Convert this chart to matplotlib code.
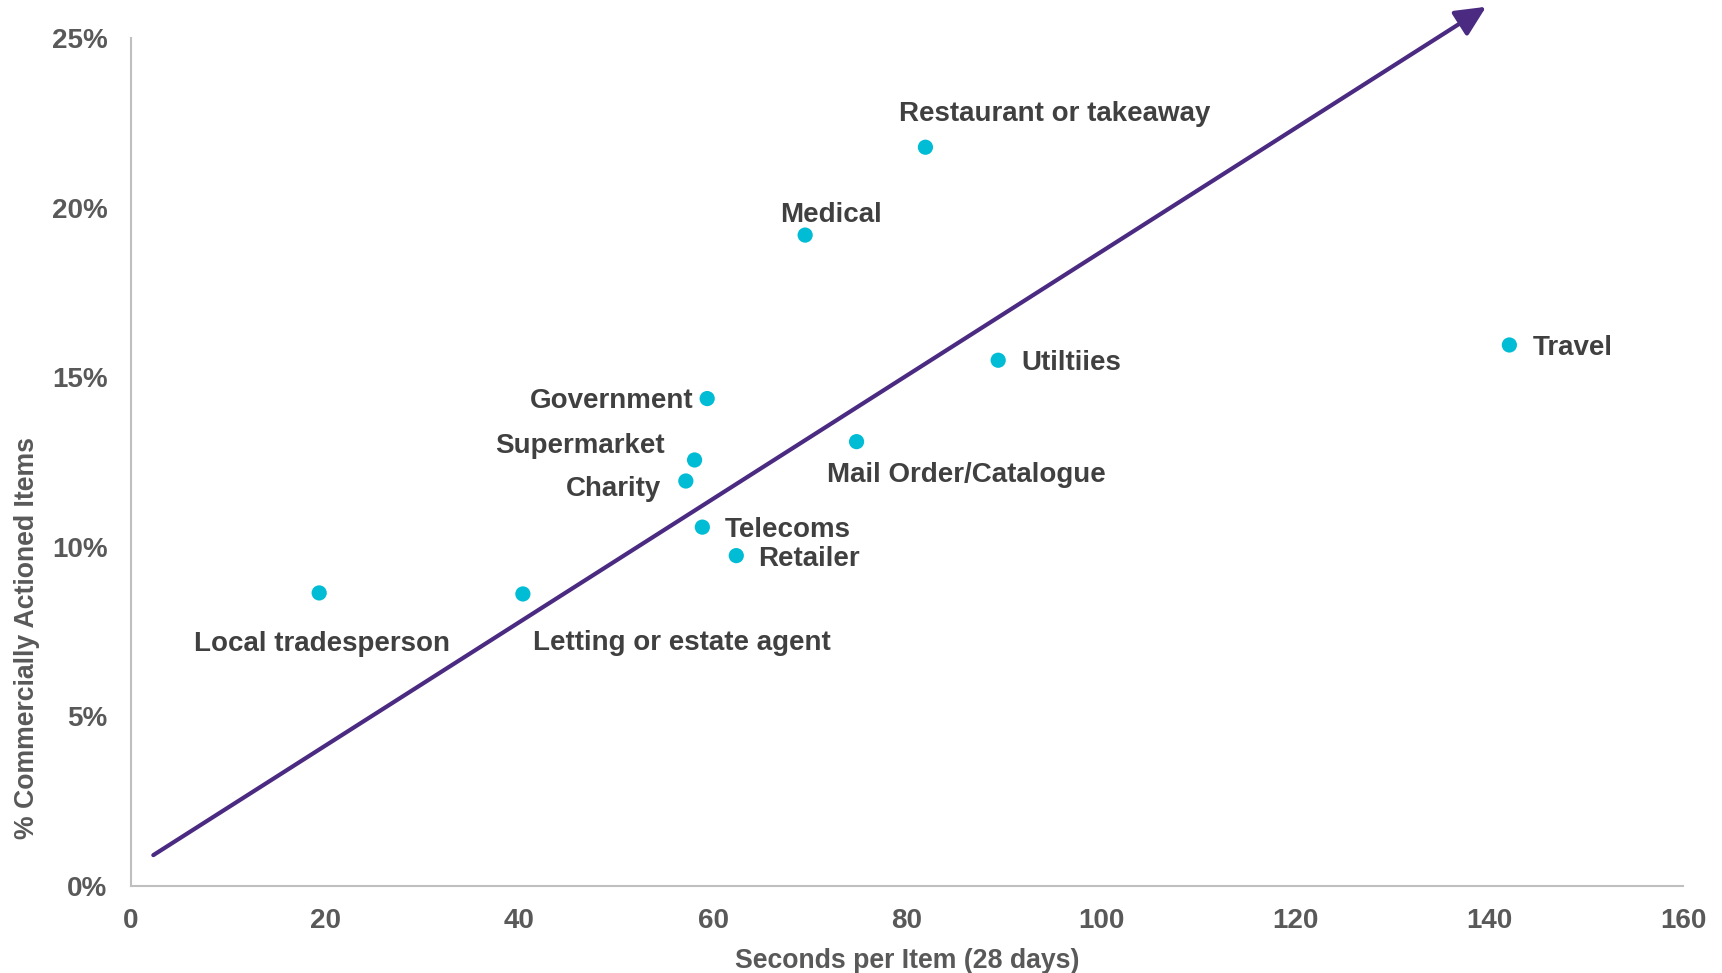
import matplotlib
matplotlib.use("Agg")
import matplotlib.pyplot as plt
from matplotlib.ticker import FuncFormatter

plt.rcParams['font.family'] = ['Liberation Sans', 'DejaVu Sans']
plt.rcParams['font.weight'] = 'bold'

# Sector data: seconds per item over 28 days vs share commercially actioned
sectors = ["Local tradesperson", "Letting or estate agent", "Charity", "Supermarket",
           "Government", "Telecoms", "Retailer", "Mail Order/Catalogue", "Medical",
           "Restaurant or takeaway", "Utiltiies", "Travel"]
seconds_per_item = [19.4, 40.4, 57.2, 58.1, 59.4, 58.9, 62.4, 74.8, 69.5, 81.9, 89.4, 142.1]
pct_actioned = [8.64, 8.61, 11.94, 12.56, 14.37, 10.58, 9.74, 13.10, 19.19, 21.78, 15.50, 15.95]

# Label offsets in pixels and horizontal alignment
label_offsets = {
    "Local tradesperson": (-125, -51, "left"),
    "Letting or estate agent": (10, -49, "left"),
    "Charity": (-25, -8, "right"),
    "Supermarket": (-30, 14, "right"),
    "Government": (-14, -2, "right"),
    "Telecoms": (22, -3, "left"),
    "Retailer": (22, -3, "left"),
    "Mail Order/Catalogue": (-30, -33, "left"),
    "Medical": (26, 20, "center"),
    "Restaurant or takeaway": (129, 33, "center"),
    "Utiltiies": (23, -3, "left"),
    "Travel": (23, -3, "left"),
}

# Trend arrow endpoints (x in seconds, y in %)
trend_x = [2.3, 139.7]
trend_y = [0.91, 25.92]

x_ticks = [0, 20, 40, 60, 80, 100, 120, 140, 160]
y_ticks = [0, 5, 10, 15, 20, 25]

dot_color = "#00BCD4"
arrow_color = "#4B2A82"
label_color = "#404040"
tick_color = "#595959"
spine_color = "#BFBFBF"

fig = plt.figure(figsize=(17.22, 9.73), dpi=100)
ax = fig.add_axes([131 / 1722, 87 / 973, (1683 - 131) / 1722, (886 - 38) / 973])

ax.set_xlim(0, 160)
ax.set_ylim(0, 25)

ax.annotate("", xy=(trend_x[1], trend_y[1]), xytext=(trend_x[0], trend_y[0]),
            arrowprops=dict(arrowstyle="-|>,head_length=0.42,head_width=0.2",
                            mutation_scale=44, lw=3, color=arrow_color,
                            shrinkA=0, shrinkB=0),
            annotation_clip=False, zorder=2)

ax.scatter(seconds_per_item, pct_actioned, s=120, color=dot_color, zorder=3,
           edgecolors="none")

for name, xv, yv in zip(sectors, seconds_per_item, pct_actioned):
    dx, dy, ha = label_offsets[name]
    ax.annotate(name, (xv, yv), xytext=(dx, dy), textcoords="offset pixels",
                ha=ha, va="center", fontsize=20, fontweight="bold",
                color=label_color, zorder=4)

ax.set_xticks(x_ticks)
ax.set_yticks(y_ticks)
ax.yaxis.set_major_formatter(FuncFormatter(lambda v, p: f"{v:.0f}%"))
ax.tick_params(axis="both", length=0, labelsize=20, labelcolor=tick_color)
ax.tick_params(axis="x", pad=16)
ax.tick_params(axis="y", pad=17)
for lab in ax.get_xticklabels() + ax.get_yticklabels():
    lab.set_fontweight("bold")

for side in ("top", "right"):
    ax.spines[side].set_visible(False)
for side in ("left", "bottom"):
    ax.spines[side].set_color(spine_color)
    ax.spines[side].set_linewidth(1.5)

fig.text(907 / 1722, 1 - 961 / 973, "Seconds per Item (28 days)", ha="center",
         va="center", fontsize=19.2, fontweight="bold", color=tick_color)
fig.text(27 / 1722, 1 - 638 / 973, "% Commercially Actioned Items", ha="center",
         va="center", rotation=90, fontsize=19.2, fontweight="bold", color=tick_color)

fig.savefig("out.png", dpi=100)
